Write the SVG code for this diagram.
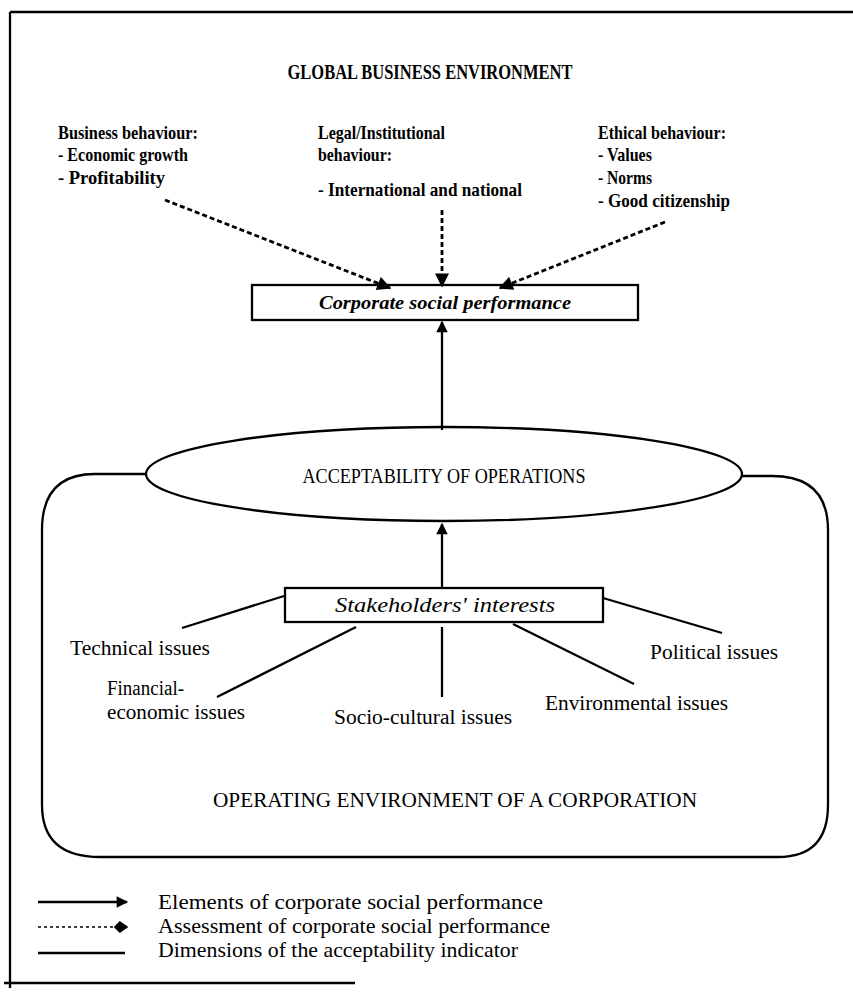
<svg xmlns="http://www.w3.org/2000/svg" width="853" height="993" viewBox="0 0 853 993">
<style>
text{font-family:"Liberation Serif","Times New Roman",serif;fill:#000;}
.b{font-weight:bold;font-size:19px;}
.t{font-weight:bold;font-size:20px;}
.n{font-size:20px;}
.lg{font-size:22px;}
.ln{stroke:#000;stroke-width:2.3;fill:none;}
.ds{stroke:#000;stroke-width:2.8;fill:none;stroke-dasharray:5 3;}
.dt{stroke:#000;stroke-width:1.6;fill:none;stroke-dasharray:3 3;}
</style>
<defs>
<marker id="ah" viewBox="0 0 10 10" refX="9" refY="5" markerWidth="5.5" markerHeight="5" markerUnits="strokeWidth" orient="auto"><path d="M0,0 L10,5 L0,10 Z" fill="#000"/></marker>
<marker id="ahd" viewBox="0 0 10 10" refX="9" refY="5" markerWidth="5.5" markerHeight="5" markerUnits="strokeWidth" orient="auto"><path d="M0,0 L10,5 L0,10 Z" fill="#000"/></marker>
<marker id="dia" viewBox="0 0 12 10" refX="11" refY="5" markerWidth="9" markerHeight="8" markerUnits="strokeWidth" orient="auto"><path d="M0,5 L5,0 L12,5 L5,10 Z" fill="#000"/></marker>
</defs>
<g id="frame">
<line x1="10" y1="12" x2="853" y2="12" class="ln"/>
<line x1="10" y1="12" x2="10" y2="988" class="ln"/>
<line x1="4" y1="983" x2="355" y2="983" class="ln"/>
</g>
<g id="title"><text class="t" x="430" y="79" text-anchor="middle" textLength="285" lengthAdjust="spacingAndGlyphs">GLOBAL BUSINESS ENVIRONMENT</text></g>
<g id="business">
<text class="b" x="58" y="139" textLength="140" lengthAdjust="spacingAndGlyphs">Business behaviour:</text>
<text class="b" x="58" y="161" textLength="130" lengthAdjust="spacingAndGlyphs">- Economic growth</text>
<text class="b" x="58" y="184" textLength="107" lengthAdjust="spacingAndGlyphs">- Profitability</text>
</g>
<g id="legal">
<text class="b" x="318" y="139" textLength="127" lengthAdjust="spacingAndGlyphs">Legal/Institutional</text>
<text class="b" x="318" y="161" textLength="74" lengthAdjust="spacingAndGlyphs">behaviour:</text>
<text class="b" x="318" y="196" textLength="204" lengthAdjust="spacingAndGlyphs">- International and national</text>
</g>
<g id="ethical">
<text class="b" x="598" y="139" textLength="128" lengthAdjust="spacingAndGlyphs">Ethical behaviour:</text>
<text class="b" x="598" y="161" textLength="54" lengthAdjust="spacingAndGlyphs">- Values</text>
<text class="b" x="598" y="184" textLength="54" lengthAdjust="spacingAndGlyphs">- Norms</text>
<text class="b" x="598" y="207" textLength="132" lengthAdjust="spacingAndGlyphs">- Good citizenship</text>
</g>
<g id="csp">
<rect x="252" y="285" width="386" height="35" class="ln"/>
<text class="b" x="445" y="309" text-anchor="middle" font-style="italic" textLength="252" lengthAdjust="spacingAndGlyphs">Corporate social performance</text>
</g>
<g id="acceptability">
<ellipse cx="444" cy="474" rx="298" ry="47" class="ln"/>
<text class="n" x="444" y="483" text-anchor="middle" textLength="283" lengthAdjust="spacingAndGlyphs">ACCEPTABILITY OF OPERATIONS</text>
</g>
<g id="operating">
<path d="M146,474 H95 Q42,474 42,530 V805 Q42,857 100,857 H778 Q828,857 828,805 V530 Q828,476 772,476 H742" class="ln"/>
<text class="n" x="455" y="807" text-anchor="middle" textLength="484" lengthAdjust="spacingAndGlyphs">OPERATING ENVIRONMENT OF A CORPORATION</text>
</g>
<g id="stakeholders">
<rect x="285" y="588" width="318" height="34" class="ln"/>
<text class="n" x="445" y="612" text-anchor="middle" font-style="italic" textLength="220" lengthAdjust="spacingAndGlyphs">Stakeholders' interests</text>
</g>
<g id="issues">
<text class="n" x="70" y="655" textLength="140" lengthAdjust="spacingAndGlyphs">Technical issues</text>
<text class="n" x="107" y="695" textLength="77" lengthAdjust="spacingAndGlyphs">Financial-</text>
<text class="n" x="107" y="719" textLength="138" lengthAdjust="spacingAndGlyphs">economic issues</text>
<text class="n" x="334" y="724" textLength="178" lengthAdjust="spacingAndGlyphs">Socio-cultural issues</text>
<text class="n" x="545" y="710" textLength="183" lengthAdjust="spacingAndGlyphs">Environmental issues</text>
<text class="n" x="650" y="659" textLength="128" lengthAdjust="spacingAndGlyphs">Political issues</text>
</g>
<g id="connectors">
<line x1="165" y1="200" x2="390" y2="288" class="ds" marker-end="url(#ahd)"/>
<line x1="442" y1="210" x2="442" y2="286" class="ds" marker-end="url(#ahd)"/>
<line x1="665" y1="222" x2="500" y2="288" class="ds" marker-end="url(#ahd)"/>
<line x1="442" y1="430" x2="442" y2="322" class="ln" marker-end="url(#ah)"/>
<line x1="442" y1="588" x2="442" y2="524" class="ln" marker-end="url(#ah)"/>
<line x1="284" y1="596" x2="182" y2="628" class="ln"/>
<line x1="356" y1="627" x2="217" y2="697" class="ln"/>
<line x1="442" y1="627" x2="442" y2="697" class="ln"/>
<line x1="513" y1="624" x2="634" y2="684" class="ln"/>
<line x1="603" y1="598" x2="722" y2="633" class="ln"/>
</g>
<g id="legend">
<line x1="38" y1="902" x2="127" y2="902" class="ln" marker-end="url(#ah)"/>
<line x1="38" y1="927" x2="127" y2="927" class="dt" marker-end="url(#dia)"/>
<line x1="38" y1="953" x2="125" y2="953" class="ln"/>
<text class="lg" x="158" y="909" textLength="385" lengthAdjust="spacingAndGlyphs">Elements of corporate social performance</text>
<text class="lg" x="158" y="933" textLength="392" lengthAdjust="spacingAndGlyphs">Assessment of corporate social performance</text>
<text class="lg" x="158" y="957" textLength="360" lengthAdjust="spacingAndGlyphs">Dimensions of the acceptability indicator</text>
</g>
</svg>
